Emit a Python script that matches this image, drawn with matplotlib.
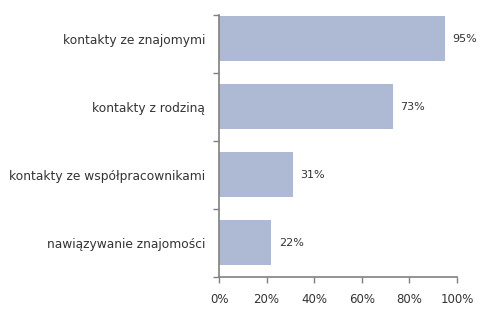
import matplotlib
matplotlib.use('Agg')
import matplotlib.pyplot as plt
import numpy as np

categories = ["kontakty ze znajomymi", "kontakty z rodziną",
              "kontakty ze współpracownikami", "nawiązywanie znajomości"]
values = [95, 73, 31, 22]
xticks = [0, 20, 40, 60, 80, 100]

fig = plt.figure(figsize=(4.84, 3.13), dpi=100)
ax = fig.add_axes([0.4525, 0.1166, 0.4917, 0.8355])

y = np.arange(len(categories))[::-1]
ax.barh(y, values, height=0.66, color="#aeb9d4")

for yi, v in zip(y, values):
    ax.text(v + 3.2, yi, f"{v}%", va="center", ha="left", fontsize=8, color="#333333")

ytop = len(categories) - 0.5 - 0.154
ax.set_ylim(-0.5, ytop)
ax.set_xlim(0, 100)
ax.set_xticks(xticks)
ax.set_xticklabels([f"{t}%" for t in xticks])
ax.set_yticks(list(np.arange(-0.5, len(categories) - 1, 1.0)) + [ytop])
ax.set_yticklabels([])
ax.set_yticks(y, minor=True)
ax.set_yticklabels(categories, minor=True)
ax.tick_params(axis="y", which="minor", length=0, pad=10, labelsize=8.8, labelcolor="#333333")
ax.tick_params(axis="y", which="major", length=4, color="#808080", width=1)
ax.tick_params(axis="x", length=4, color="#808080", width=1, pad=8, labelsize=8.5, labelcolor="#333333")

for s in ["top", "right"]:
    ax.spines[s].set_visible(False)
for s in ["left", "bottom"]:
    ax.spines[s].set_color("#808080")
    ax.spines[s].set_linewidth(1.2)

plt.savefig("out.png", dpi=100)
plt.close(fig)
